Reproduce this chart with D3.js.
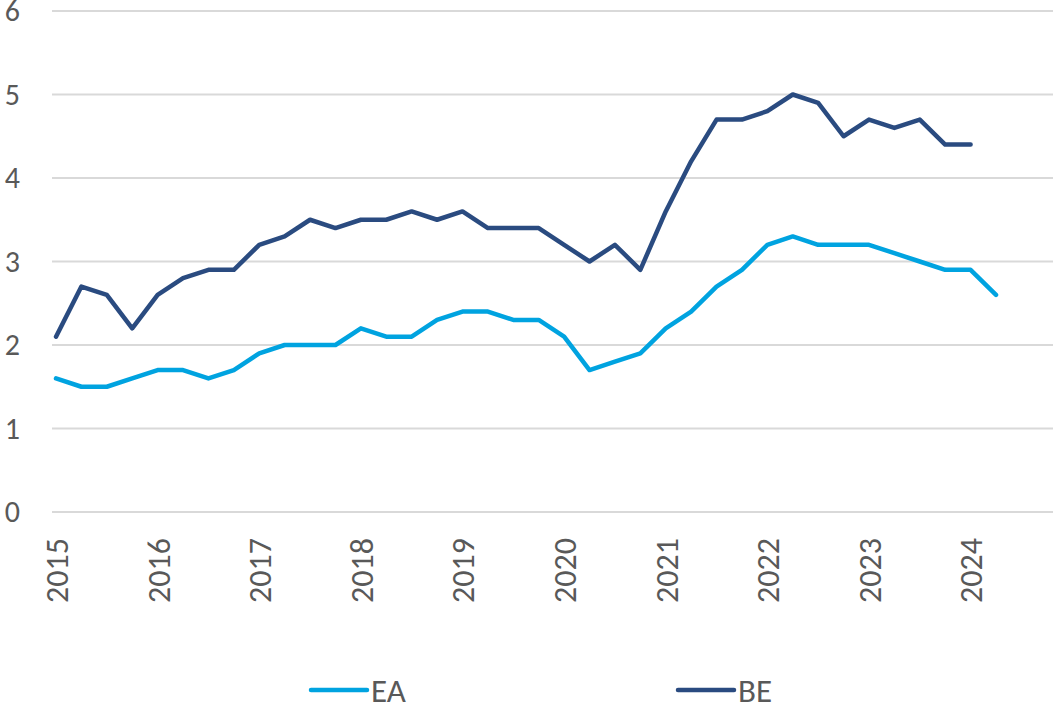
<!DOCTYPE html>
<html>
<head>
<meta charset="utf-8">
<script src="https://cdn.jsdelivr.net/npm/d3@7"></script>
<style>
  body { margin: 0; background: #fff; }
  text { font-family: Carlito, Roboto, "Open Sans", sans-serif; fill: #595959; }
</style>
</head>
<body>
<div id="chart"></div>
<script>
// quarterly data, 2015Q1 onwards
var quarters = [];
for (var y = 2015; y <= 2024; y++) {
  for (var q = 1; q <= 4; q++) quarters.push(y + "Q" + q);
}
quarters = quarters.slice(0, 38);  // up to 2024Q2

var ea = [1.6, 1.5, 1.5, 1.6, 1.7, 1.7, 1.6, 1.7, 1.9, 2.0, 2.0, 2.0,
          2.2, 2.1, 2.1, 2.3, 2.4, 2.4, 2.3, 2.3, 2.1, 1.7, 1.8, 1.9,
          2.2, 2.4, 2.7, 2.9, 3.2, 3.3, 3.2, 3.2, 3.2, 3.1, 3.0, 2.9,
          2.9, 2.6];
var be = [2.1, 2.7, 2.6, 2.2, 2.6, 2.8, 2.9, 2.9, 3.2, 3.3, 3.5, 3.4,
          3.5, 3.5, 3.6, 3.5, 3.6, 3.4, 3.4, 3.4, 3.2, 3.0, 3.2, 2.9,
          3.6, 4.2, 4.7, 4.7, 4.8, 5.0, 4.9, 4.5, 4.7, 4.6, 4.7, 4.4,
          4.4];
var yTicks = [0, 1, 2, 3, 4, 5, 6];
var seriesNames = ["EA", "BE"];
var seriesColors = ["#00a3e0", "#2a4b80"];

var width = 1053, height = 706;

var svg = d3.select("#chart")
  .append("svg")
    .attr("width", width)
    .attr("height", height);

var x = d3.scaleLinear().domain([0, 37]).range([56, 996]);
var yScale = d3.scaleLinear().domain([0, 6]).range([512, 11]);

// horizontal gridlines
svg.selectAll(".grid")
    .data(yTicks)
  .enter()
    .append("line")
    .attr("x1", 52)
    .attr("x2", width)
    .attr("y1", function(d) { return yScale(d); })
    .attr("y2", function(d) { return yScale(d); })
    .attr("stroke", "#d9d9d9")
    .attr("stroke-width", 2);

// y labels
svg.selectAll(".ylab")
    .data(yTicks)
  .enter()
    .append("text")
    .attr("x", 20)
    .attr("y", function(d) { return yScale(d); })
    .attr("dy", "0.34em")
    .attr("text-anchor", "end")
    .style("font-size", "30px")
    .text(function(d) { return d; });

// x labels: one per year, on Q1
var yearIdx = d3.range(0, quarters.length, 4);
svg.selectAll(".xlab")
    .data(yearIdx)
  .enter()
    .append("text")
    .attr("transform", function(d) {
      return "translate(" + (x(d) + 1) + ",538) rotate(-90)";
    })
    .attr("dy", "0.34em")
    .attr("text-anchor", "end")
    .style("font-size", "32px")
    .text(function(d) { return quarters[d].slice(0, 4); });

// lines
var line = d3.line()
  .x(function(d, i) { return x(i); })
  .y(function(d) { return yScale(d); });

[ea, be].forEach(function(s, k) {
  svg.append("path")
    .datum(s)
    .attr("fill", "none")
    .attr("stroke", seriesColors[k])
    .attr("stroke-width", 4.5)
    .attr("stroke-linejoin", "round")
    .attr("stroke-linecap", "round")
    .attr("d", line);
});

// legend
var legX = [311, 678];
seriesNames.forEach(function(name, k) {
  svg.append("line")
    .attr("x1", legX[k])
    .attr("x2", legX[k] + 56)
    .attr("y1", 690)
    .attr("y2", 690)
    .attr("stroke", seriesColors[k])
    .attr("stroke-width", 4.5)
    .attr("stroke-linecap", "round");
  svg.append("text")
    .attr("x", legX[k] + 60)
    .attr("y", 702)
    .style("font-size", "33px")
    .text(name);
});
</script>
</body>
</html>
